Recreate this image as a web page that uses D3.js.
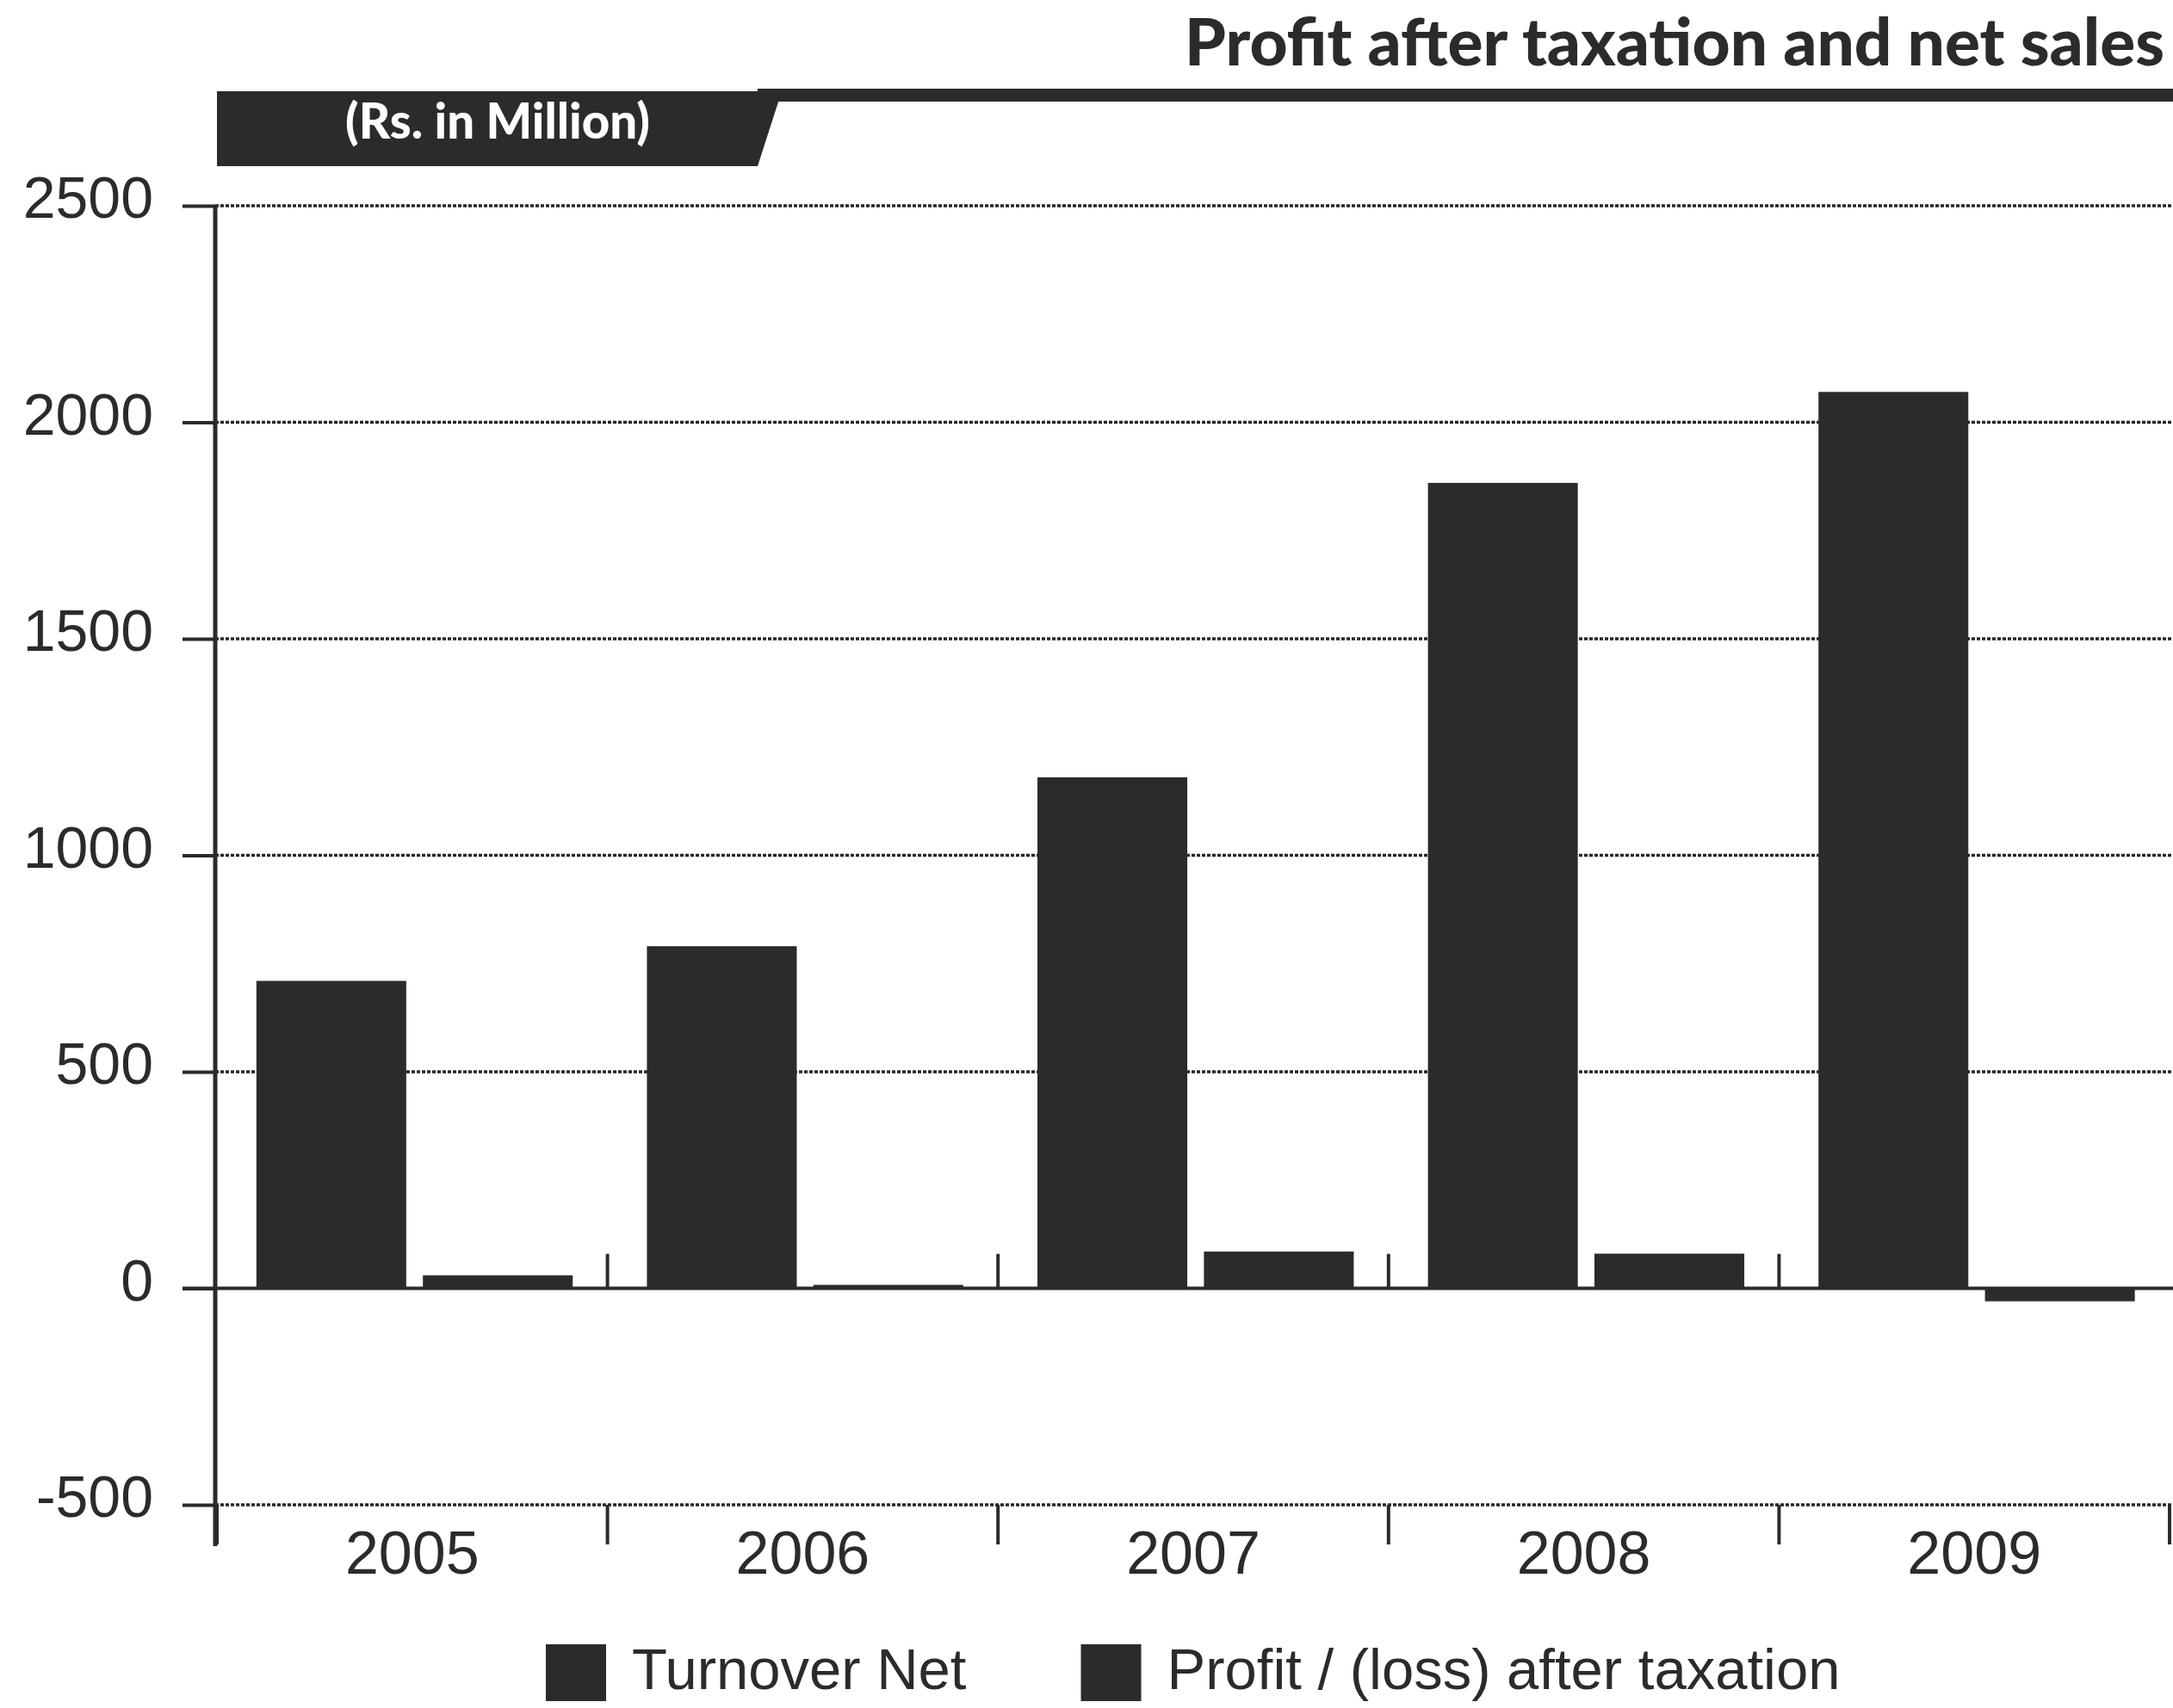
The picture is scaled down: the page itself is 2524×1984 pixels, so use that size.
<!DOCTYPE html>
<html>
<head>
<meta charset="utf-8">
<script src="https://cdn.jsdelivr.net/npm/d3@7"></script>
<style>
  html, body { margin: 0; padding: 0; background: #fff; }
  svg { display: block; }
</style>
</head>
<body>
<svg id="chart" width="2524" height="1984"></svg>
<script>
// Net sales and profit after tax, Rs. in million
const years = ["2005", "2006", "2007", "2008", "2009"];
const turnoverNet = [710, 790, 1180, 1860, 2070];
const profitAfterTax = [30, 8, 85, 80, -30];
const seriesNames = ["Turnover Net", "Profit / (loss) after taxation"];
const yTicks = [-500, 0, 500, 1000, 1500, 2000, 2500];
const titleText = "Profit after taxation and net sales";
const unitText = "(Rs. in Million)";

const W = 2524, H = 1984;
const ink = "#2b2b2b";
const sans = "'Liberation Sans', Arial, Helvetica, sans-serif";
const heavy = "Lato, 'Open Sans', 'DejaVu Sans', sans-serif";

const svg = d3.select("#chart");

const axisX = 250;
const y = d3.scaleLinear().domain([-500, 2500]).range([1748, 239]);
const x0 = d3.scaleBand().domain(years).range([axisX + 2, 2520]);
const bw = x0.bandwidth();
const x1 = d3.scaleBand().domain(seriesNames).range([0.101 * bw, 0.911 * bw]).paddingInner(0.1);

// scale text to a given width
function fitWidth(sel, target) {
  const w = sel.node().getComputedTextLength();
  const fs = +sel.attr("font-size");
  sel.attr("font-size", fs * target / w);
}

// ---- title and unit banner ----
const title = svg.append("text")
  .attr("x", 2514).attr("y", 76)
  .attr("text-anchor", "end")
  .attr("font-family", heavy).attr("font-weight", 900)
  .attr("font-size", 62).attr("fill", ink)
  .text(titleText);
fitWidth(title, 1138);

svg.append("rect")
  .attr("x", 880).attr("y", 103).attr("width", W - 880).attr("height", 15)
  .attr("fill", ink);
svg.append("path")
  .attr("d", "M252,106 L908,106 L880,193 L252,193 Z")
  .attr("fill", ink);
const unit = svg.append("text")
  .attr("x", 401).attr("y", 161)
  .attr("font-family", heavy).attr("font-weight", 900)
  .attr("font-size", 40).attr("fill", "#fff")
  .text(unitText);
fitWidth(unit, 354);

// ---- gridlines ----
svg.append("g")
  .selectAll("line")
  .data(yTicks.filter(d => d !== 0))
  .join("line")
  .attr("x1", axisX).attr("x2", W)
  .attr("y1", d => y(d)).attr("y2", d => y(d))
  .attr("stroke", "#262626")
  .attr("stroke-width", 3.5)
  .attr("stroke-dasharray", "4 2");

// ---- bars ----
const rows = years.map((yr, i) => ({ year: yr, values: [turnoverNet[i], profitAfterTax[i]] }));
svg.append("g")
  .selectAll("g")
  .data(rows)
  .join("g")
  .attr("transform", d => `translate(${x0(d.year)},0)`)
  .selectAll("rect")
  .data(d => d.values.map((v, k) => ({ series: seriesNames[k], value: v })))
  .join("rect")
  .attr("x", d => x1(d.series))
  .attr("width", x1.bandwidth())
  .attr("y", d => y(Math.max(0, d.value)))
  .attr("height", d => Math.abs(y(d.value) - y(0)))
  .attr("fill", ink);

// ---- zero baseline ----
svg.append("line")
  .attr("x1", axisX - 38).attr("x2", W)
  .attr("y1", y(0)).attr("y2", y(0))
  .attr("stroke", ink).attr("stroke-width", 4);

// ---- category separators ----
const bounds = years.map(d => x0(d)).concat([x0.range()[1]]);
svg.append("g")
  .selectAll("line")
  .data(bounds)
  .join("line")
  .attr("x1", d => d).attr("x2", d => d)
  .attr("y1", y(-500)).attr("y2", y(-500) + 46)
  .attr("stroke", ink).attr("stroke-width", 4);
svg.append("g")
  .selectAll("line")
  .data(bounds.slice(1, -1))
  .join("line")
  .attr("x1", d => d).attr("x2", d => d)
  .attr("y1", y(0) - 40).attr("y2", y(0))
  .attr("stroke", ink).attr("stroke-width", 4);

// ---- y axis ----
const gy = svg.append("g")
  .attr("transform", `translate(${axisX},0)`)
  .call(d3.axisLeft(y).tickValues(yTicks).tickSize(38).tickPadding(34).tickFormat(d => String(d)));
gy.select(".domain").remove();
gy.selectAll(".tick line").attr("stroke", ink).attr("stroke-width", 4);
gy.selectAll(".tick text")
  .attr("font-family", sans).attr("font-size", 68)
  .attr("fill", ink).attr("dy", "0.2em");
svg.append("line")
  .attr("x1", axisX).attr("x2", axisX)
  .attr("y1", y(2500)).attr("y2", 1796)
  .attr("stroke", ink).attr("stroke-width", 5);

// ---- x axis labels ----
const gx = svg.append("g")
  .attr("transform", `translate(0,${y(-500)})`)
  .call(d3.axisBottom(x0).tickSize(0).tickPadding(30));
gx.select(".domain").remove();
gx.selectAll(".tick text")
  .attr("font-family", sans).attr("font-size", 70).attr("fill", ink);

// ---- legend ----
const legend = svg.append("g").attr("transform", "translate(634,1910)");
let lx = 0;
seriesNames.forEach((name, k) => {
  legend.append("rect")
    .attr("x", lx).attr("y", 0).attr("width", 70).attr("height", 66)
    .attr("fill", ink);
  const t = legend.append("text")
    .attr("x", lx + 100).attr("y", 52)
    .attr("font-family", sans).attr("font-size", 67).attr("fill", ink)
    .text(name);
  lx += 100 + t.node().getComputedTextLength() + 133;
});
</script>
</body>
</html>
